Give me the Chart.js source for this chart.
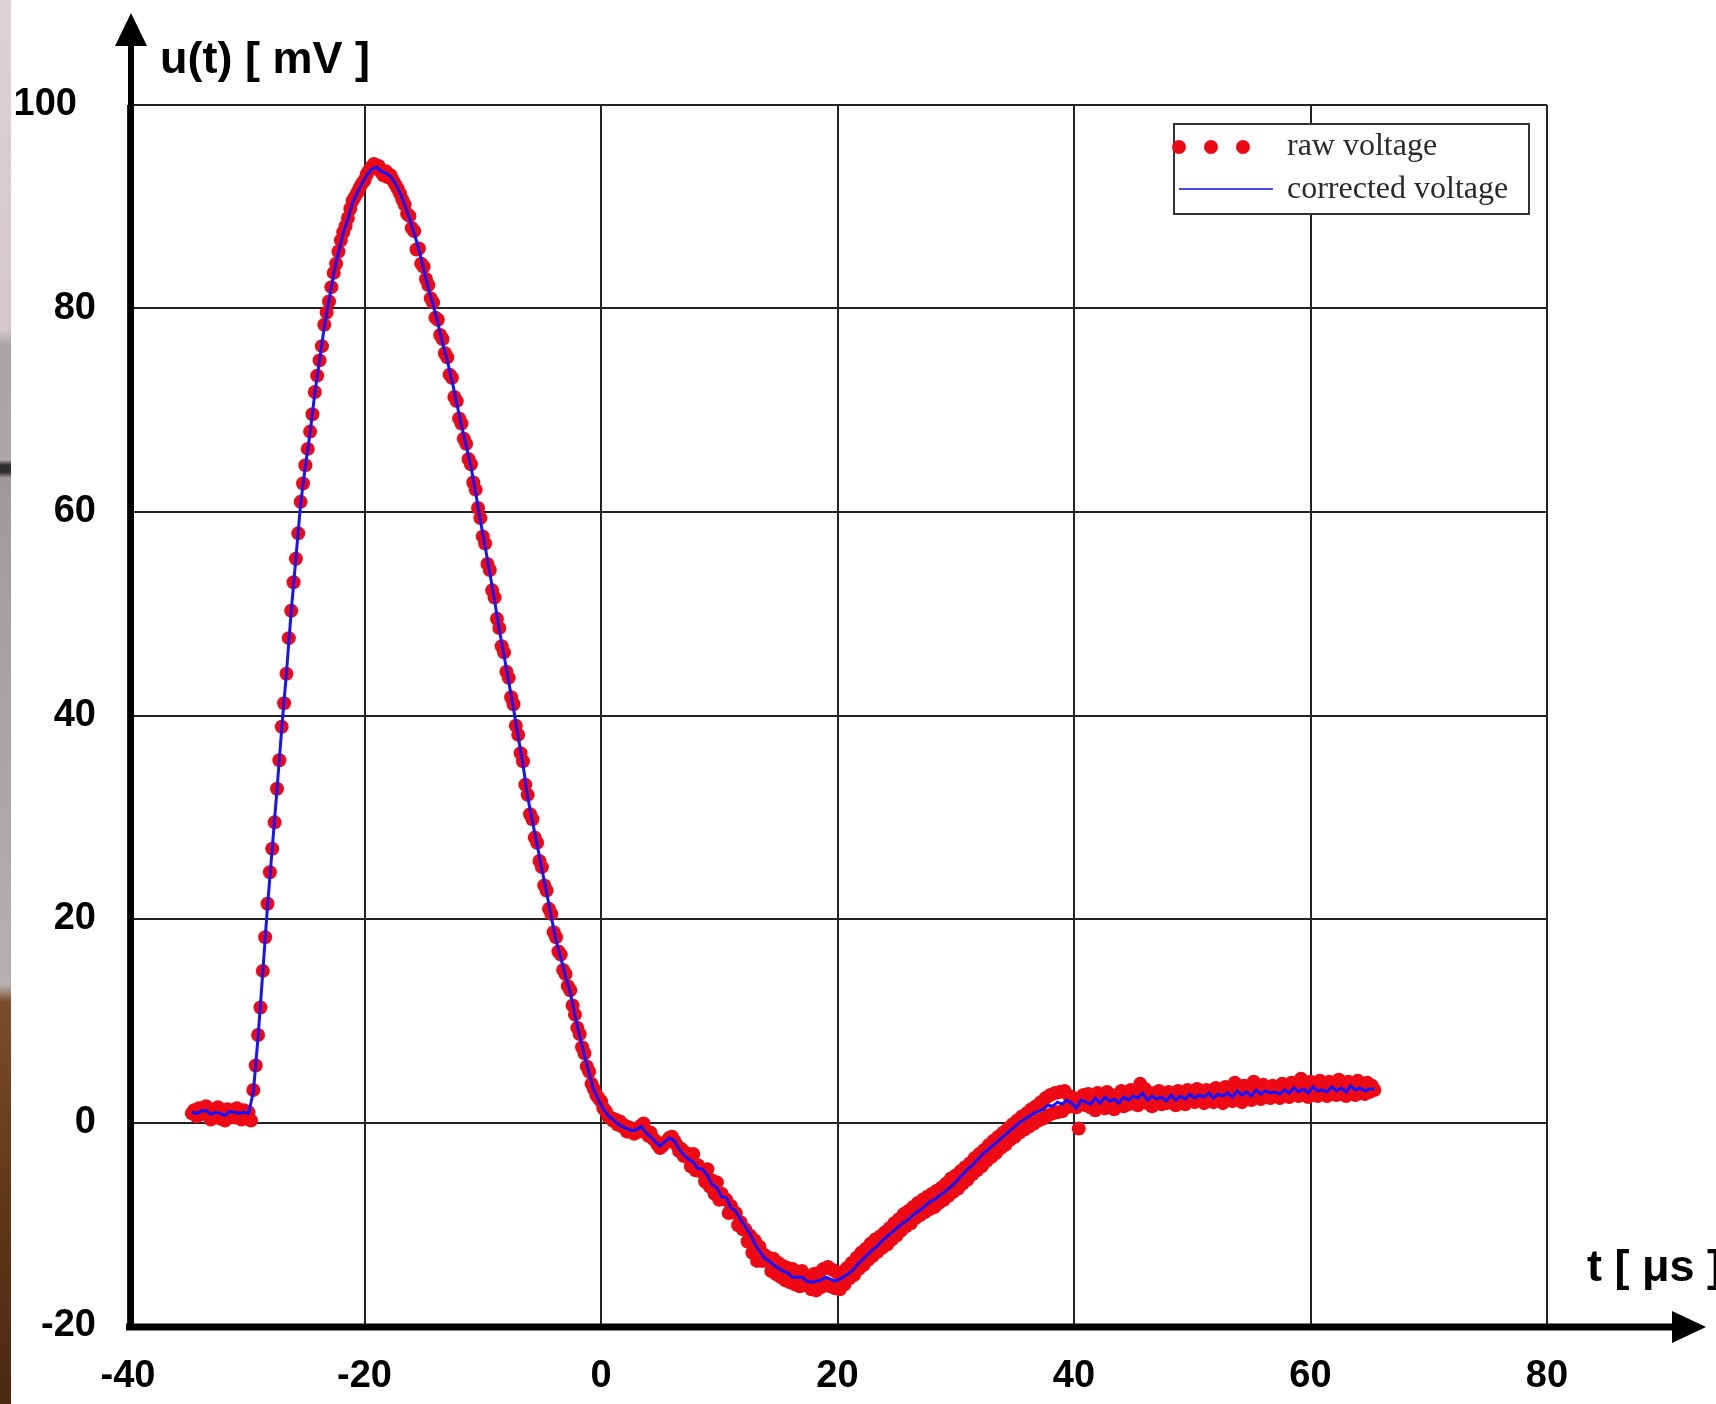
<!DOCTYPE html>
<html>
<head>
<meta charset="utf-8">
<title>u(t)</title>
<script src="https://cdn.jsdelivr.net/npm/chart.js@4.4.1/dist/chart.umd.min.js"></script>
<style>
    html, body { margin: 0; padding: 0; background: #fff; }
    #wrap { position: relative; width: 1716px; height: 1404px; overflow: hidden; background: #fff; }
    #voltageChart { position: absolute; left: 0; top: 0; }
    #edge {
        position: absolute; left: 0; top: 0; width: 11px; height: 1404px;
        background: linear-gradient(to bottom,
            #ded2d4 0px, #d5c7ca 330px, #a9a5a7 345px, #aca8aa 460px,
            #2e2e2e 465px, #2e2e2e 472px, #9e9a9c 478px, #b4b0b2 985px,
            #7b4d2b 1002px, #5f371a 1200px, #4b2912 1404px);
    }
</style>
</head>
<body>
<div id="wrap">
    <canvas id="voltageChart" width="1716" height="1404"></canvas>
    <div id="edge"></div>
</div>
<script>
// sampling: first sample time and spacing (µs)
const T_START = -34.6;
const RAW_STEP = 0.2;
const CORRECTED_STEP = 0.4;

// raw voltage samples [mV], 10 per row (2 µs per row)
const rawVoltage = [
    0.9, 1.2, 0.6, 1.4, 0.8, 1.1, 1.6, 0.7, 0.3, 1.2,
    0.9, 1.5, 0.4, 1.0, 0.2, 1.3, 0.8, 1.1, 0.5, 1.4,
    0.9, 0.3, 1.2, 0.7, 1.0, 0.2, 3.2, 5.6, 8.6, 11.3,
    14.9, 18.2, 21.5, 24.6, 26.9, 29.5, 32.8, 35.6, 38.9, 41.2,
    44.1, 47.6, 50.3, 53.1, 55.4, 57.9, 61.0, 62.8, 64.6, 66.2,
    67.9, 69.6, 71.8, 73.4, 74.9, 76.3, 78.4, 79.6, 80.7, 82.1,
    83.5, 84.4, 85.6, 86.7, 87.5, 88.1, 88.9, 89.8, 90.6, 91.0,
    91.4, 91.9, 92.3, 92.6, 93.2, 93.6, 93.9, 94.2, 93.8, 94.0,
    93.4, 93.1, 93.5, 92.9, 93.1, 92.6, 92.2, 91.8, 91.3, 90.7,
    90.2, 89.3, 89.1, 87.9, 87.6, 85.8, 85.9, 84.4, 84.1, 82.9,
    82.3, 81.0, 80.6, 79.1, 78.9, 77.4, 77.0, 75.6, 75.2, 73.5,
    73.2, 71.3, 70.9, 69.2, 68.7, 67.2, 66.7, 65.2, 64.7, 62.9,
    62.2, 60.4, 59.4, 57.6, 56.9, 54.9, 54.3, 52.3, 51.6, 49.5,
    48.6, 46.8, 46.2, 44.3, 43.7, 41.8, 41.1, 39.0, 38.1, 36.3,
    35.5, 33.2, 32.2, 30.3, 29.8, 28.0, 27.5, 25.7, 25.1, 23.3,
    22.8, 21.0, 20.5, 18.7, 18.2, 16.8, 16.5, 15.0, 14.6, 13.4,
    13.0, 11.5, 10.6, 9.3, 8.7, 7.4, 6.8, 5.5, 5.0, 3.8,
    3.3, 2.7, 2.4, 2.1, 1.4, 1.1, 0.6, 0.5, 0.2, 0.3,
    -0.2, 0.1, -0.4, -0.3, -0.9, -0.5, -0.8, -1.1, -0.6, -0.9,
    -0.3, -0.1, -0.8, -1.3, -1.0, -1.6, -1.8, -2.2, -2.5, -2.3,
    -2.0, -1.8, -1.5, -1.4, -1.8, -2.2, -2.8, -2.6, -3.3, -3.0,
    -3.2, -4.3, -3.1, -4.7, -4.2, -4.8, -4.7, -5.8, -4.6, -6.3,
    -5.7, -7.0, -5.9, -7.6, -7.0, -7.5, -7.6, -8.9, -8.2, -8.8,
    -8.9, -10.1, -9.8, -10.5, -10.5, -11.7, -11.1, -12.8, -11.6, -13.6,
    -12.2, -13.6, -13.0, -13.6, -13.3, -14.6, -13.4, -14.9, -13.8, -15.2,
    -14.1, -15.5, -14.3, -15.7, -14.4, -15.9, -14.7, -16.1, -14.6, -16.0,
    -15.2, -15.9, -16.4, -14.9, -16.5, -14.8, -16.2, -14.4, -15.8, -14.2,
    -16.1, -14.5, -16.3, -14.8, -16.4, -14.7, -15.9, -14.3, -15.3, -13.8,
    -15.0, -13.3, -14.4, -12.8, -14.0, -12.4, -13.5, -11.9, -13.1, -11.5,
    -12.7, -11.2, -12.3, -10.8, -12.0, -10.4, -11.5, -9.9, -11.1, -9.5,
    -10.6, -9.0, -10.2, -8.7, -9.9, -8.3, -9.4, -7.9, -9.1, -7.6,
    -8.8, -7.3, -8.5, -7.0, -8.3, -6.7, -7.9, -6.4, -7.6, -6.0,
    -7.2, -5.5, -6.8, -5.2, -6.5, -4.8, -6.0, -4.4, -5.6, -4.0,
    -5.1, -3.5, -4.7, -3.1, -4.3, -2.7, -3.8, -2.2, -3.4, -1.8,
    -3.0, -1.4, -2.5, -1.0, -2.2, -0.6, -1.7, -0.2, -1.4, 0.2,
    -1.0, 0.6, -0.7, 0.9, -0.4, 1.3, -0.1, 1.6, 0.2, 2.0,
    0.4, 2.4, 0.7, 2.7, 0.9, 2.9, 1.0, 3.0, 1.1, 3.1,
    1.5, 2.6, 1.6, 2.4, 1.5, -0.6, 1.8, 2.7, 1.7, 2.8,
    1.5, 2.4, 1.2, 2.9, 1.8, 2.6, 1.4, 3.0, 2.0, 2.5,
    1.3, 2.7, 1.9, 3.1, 1.6, 2.4, 1.8, 3.2, 2.2, 2.9,
    1.7, 3.8, 2.3, 3.3, 1.9, 2.7, 1.6, 2.9, 2.1, 3.1,
    1.8, 2.6, 1.9, 3.0, 2.0, 2.8, 1.7, 3.1, 2.2, 2.7,
    1.8, 3.2, 2.1, 2.9, 2.0, 3.3, 2.3, 2.8, 1.9, 3.2,
    2.2, 3.0, 2.0, 3.4, 2.4, 2.9, 1.9, 3.5, 2.3, 3.1,
    2.1, 3.9, 2.6, 3.2, 2.0, 3.6, 2.5, 3.3, 2.2, 4.0,
    2.7, 3.1, 2.3, 3.7, 2.6, 3.4, 2.4, 3.6, 2.8, 3.2,
    2.4, 3.8, 2.7, 3.5, 2.5, 3.9, 2.8, 3.4, 2.6, 4.3,
    2.9, 3.6, 2.5, 4.0, 2.9, 3.5, 2.6, 4.1, 3.0, 3.7,
    2.6, 4.0, 2.8, 3.6, 2.7, 4.2, 3.0, 3.7, 2.6, 4.0,
    3.1, 3.5, 2.7, 4.1, 2.9, 3.6, 2.8, 3.9, 3.0, 3.6,
    3.2
];

// corrected voltage [mV], 10 per row (4 µs per row)
const correctedVoltage = [
    1.0, 0.9, 1.1, 1.2, 0.8, 1.0, 0.9, 0.7, 1.1, 1.0,
    0.9, 1.0, 0.9, 3.0, 8.4, 14.8, 21.3, 27.0, 32.7, 38.7,
    44.2, 50.2, 55.5, 60.8, 64.5, 67.8, 71.7, 74.9, 78.2, 80.8,
    83.4, 85.5, 87.4, 88.8, 90.4, 91.4, 92.3, 93.1, 93.7, 93.9,
    93.5, 93.3, 93.0, 92.3, 91.4, 90.2, 88.9, 87.4, 85.8, 83.9,
    82.0, 80.4, 78.6, 76.6, 74.9, 72.9, 70.7, 68.5, 66.5, 64.5,
    61.9, 59.2, 56.6, 54.0, 51.3, 48.4, 45.9, 43.3, 40.7, 37.9,
    35.2, 32.0, 29.6, 27.3, 24.9, 22.6, 20.2, 17.9, 16.2, 14.4,
    12.8, 10.5, 8.5, 6.6, 4.8, 3.2, 2.2, 1.3, 0.7, 0.3,
    -0.1, -0.4, -0.6, -0.8, -0.7, -0.4, -1.0, -1.4, -1.9, -2.3,
    -1.9, -1.5, -1.8, -2.6, -3.2, -3.6, -3.9, -4.5, -4.6, -5.2,
    -6.1, -6.4, -7.3, -7.4, -8.4, -8.7, -9.5, -10.2, -10.9, -11.9,
    -12.6, -13.3, -13.6, -14.0, -14.3, -14.6, -14.8, -15.2, -15.2, -15.2,
    -15.6, -15.7, -15.6, -15.5, -15.2, -15.4, -15.6, -15.4, -15.1, -14.8,
    -14.4, -13.8, -13.4, -12.9, -12.5, -12.1, -11.6, -11.2, -10.8, -10.4,
    -10.0, -9.7, -9.3, -8.9, -8.6, -8.2, -7.8, -7.6, -7.2, -6.9,
    -6.5, -6.1, -5.6, -5.1, -4.6, -4.2, -3.7, -3.2, -2.8, -2.4,
    -2.0, -1.6, -1.2, -0.8, -0.4, 0.0, 0.3, 0.6, 0.9, 1.1,
    1.3, 1.7, 1.6, 2.0, 1.8, 2.2, 1.9, 1.4, 2.2, 2.0,
    1.8, 2.4, 1.9, 2.5, 2.1, 2.3, 1.9, 2.5, 2.2, 2.6,
    2.4, 2.9, 2.2, 2.6, 2.3, 2.5, 2.1, 2.7, 2.2, 2.6,
    2.3, 2.8, 2.4, 2.7, 2.5, 2.9, 2.4, 2.8, 2.6, 2.9,
    2.5, 3.1, 2.7, 3.0, 2.6, 3.2, 2.8, 3.1, 2.9, 3.0,
    2.8, 3.2, 2.9, 3.4, 3.0, 3.3, 2.9, 3.5, 3.1, 3.2,
    3.0, 3.5, 3.1, 3.4, 3.0, 3.6, 3.2, 3.4, 3.1, 3.3,
    3.3
];

const xTickValues = [-40, -20, 0, 20, 40, 60, 80];
const yTickValues = [-20, 0, 20, 40, 60, 80, 100];

const RED = "#ee0a14";
const BLUE = "#1414ff";
const SANS = '"Liberation Sans", Arial, sans-serif';
const SERIF = '"Liberation Serif", "Times New Roman", serif';

function toPoints(values, step) {
    return values.map((v, i) => ({ x: +(T_START + i * step).toFixed(2), y: v }));
}

// thick axes with arrow heads, axis titles and the boxed legend
const axesAndLegend = {
    id: "axesAndLegend",
    afterDraw(chart) {
        const { ctx, chartArea: a, width } = chart;
        ctx.save();
        ctx.fillStyle = "#000";
        ctx.strokeStyle = "#000";

        // vertical axis
        const ax = a.left + 3;
        ctx.lineWidth = 6;
        ctx.beginPath();
        ctx.moveTo(ax, a.bottom + 4);
        ctx.lineTo(ax, 40);
        ctx.stroke();
        ctx.beginPath();
        ctx.moveTo(ax, 13);
        ctx.lineTo(ax - 16, 46);
        ctx.lineTo(ax + 16, 46);
        ctx.closePath();
        ctx.fill();

        // horizontal axis
        const ay = a.bottom + 1;
        ctx.lineWidth = 7;
        ctx.beginPath();
        ctx.moveTo(a.left - 2, ay);
        ctx.lineTo(width - 36, ay);
        ctx.stroke();
        ctx.beginPath();
        ctx.moveTo(width - 10, ay);
        ctx.lineTo(width - 44, ay - 16);
        ctx.lineTo(width - 44, ay + 16);
        ctx.closePath();
        ctx.fill();

        // axis titles
        ctx.font = "bold 45px " + SANS;
        ctx.textAlign = "left";
        ctx.textBaseline = "alphabetic";
        ctx.fillText("u(t) [ mV ]", a.left + 32, 73);
        ctx.fillText("t [ μs ]", 1587, 1281);

        // legend box
        const lx = 1174, ly = 124, lw = 355, lh = 90;
        ctx.fillStyle = "#fff";
        ctx.fillRect(lx, ly, lw, lh);
        ctx.lineWidth = 2;
        ctx.strokeStyle = "#333";
        ctx.strokeRect(lx, ly, lw, lh);

        ctx.fillStyle = RED;
        [1179, 1211, 1243].forEach(cx => {
            ctx.beginPath();
            ctx.arc(cx, 147, 7, 0, Math.PI * 2);
            ctx.fill();
        });
        ctx.strokeStyle = "#4a4aee";
        ctx.lineWidth = 2;
        ctx.beginPath();
        ctx.moveTo(1179, 189);
        ctx.lineTo(1273, 189);
        ctx.stroke();

        ctx.fillStyle = "#2a2a2a";
        ctx.font = "32px " + SERIF;
        ctx.fillText(chart.data.datasets[0].label, 1287, 155);
        ctx.fillText(chart.data.datasets[1].label, 1287, 198);
        ctx.restore();
    }
};

const tickFont = { family: SANS, size: 38, weight: "bold" };

new Chart(document.getElementById("voltageChart").getContext("2d"), {
    type: "scatter",
    data: {
        datasets: [
            {
                label: "raw voltage",
                data: toPoints(rawVoltage, RAW_STEP),
                showLine: false,
                pointRadius: 7,
                pointBackgroundColor: RED,
                pointBorderWidth: 0,
                order: 1
            },
            {
                label: "corrected voltage",
                type: "line",
                data: toPoints(correctedVoltage, CORRECTED_STEP),
                borderColor: BLUE,
                borderWidth: 3,
                pointRadius: 0,
                tension: 0,
                fill: false,
                order: 0
            }
        ]
    },
    options: {
        responsive: false,
        animation: false,
        devicePixelRatio: 1,
        layout: { padding: { left: 0, top: 105, right: 169, bottom: 0 } },
        plugins: {
            legend: { display: false },
            tooltip: { enabled: false }
        },
        scales: {
            x: {
                type: "linear",
                min: -40,
                max: 80,
                afterFit: s => { s.height = 78; },
                afterBuildTicks: s => { s.ticks = xTickValues.map(v => ({ value: v })); },
                ticks: { font: tickFont, color: "#000", padding: 28, maxRotation: 0 },
                grid: { color: "#222", lineWidth: 2, drawTicks: false },
                border: { display: false }
            },
            y: {
                type: "linear",
                min: -20,
                max: 100,
                afterFit: s => { s.width = 128; },
                afterBuildTicks: s => { s.ticks = yTickValues.map(v => ({ value: v })); },
                ticks: {
                    font: tickFont,
                    color: "#000",
                    padding: 32,
                    // the top label sits a little further out
                    callback: v => (v === 100 ? "100\u2002" : String(v))
                },
                grid: { color: "#222", lineWidth: 2, drawTicks: false },
                border: { display: false }
            }
        }
    },
    plugins: [axesAndLegend]
});
</script>
</body>
</html>
